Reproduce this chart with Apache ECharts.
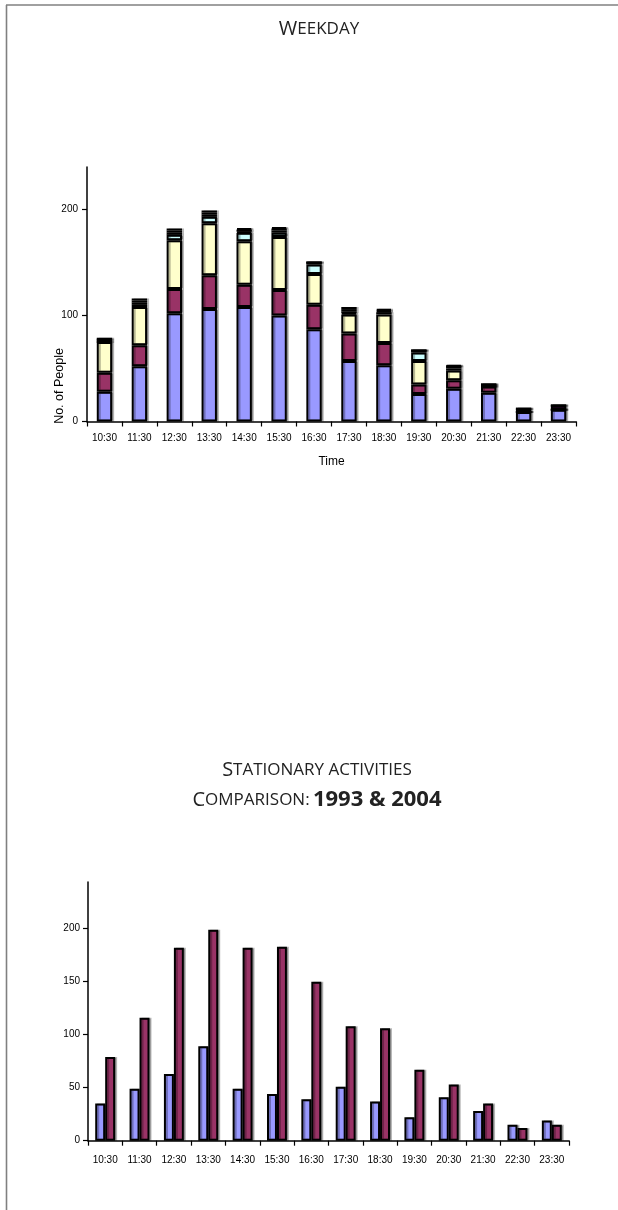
<!DOCTYPE html>
<html>
<head>
<meta charset="utf-8">
<script src="https://cdn.jsdelivr.net/npm/echarts@6/dist/echarts.min.js"></script>
<style>
html,body{margin:0;padding:0;background:#fff;}
#c{width:618px;height:1210px;}
</style>
</head>
<body>
<div id="c"></div>
<script>
// ---- data ----
const categories = ['10:30','11:30','12:30','13:30','14:30','15:30','16:30','17:30','18:30','19:30','20:30','21:30','22:30','23:30'];
// Weekday stacked series
const weekdayS1 = [28, 52, 102, 106, 108, 100, 87, 57, 53, 26, 31, 27, 9, 11];
const weekdayS2 = [18, 20, 23, 32, 21, 24, 23, 26, 21, 9, 8, 6, 0, 0];
const weekdayS3 = [29, 36, 46, 49, 41, 50, 29, 18, 27, 22, 9, 0, 0, 0];
const weekdayS4 = [0, 2, 5, 6, 8, 4, 9, 1, 2, 8, 2, 0, 0, 0];
const weekdayS5 = [2, 2, 2, 2, 1, 2, 2, 2, 1, 2, 2, 2, 3, 4];
const weekdayS6 = [0, 2, 2, 2, 2, 2, 0, 2, 1, 0, 0, 0, 0, 0];
const weekdayS7 = [2, 2, 2, 2, 1, 1, 0, 2, 1, 0, 1, 0, 0, 0];
// Comparison series
const values1993 = [35, 49, 63, 89, 49, 44, 39, 51, 37, 22, 41, 28, 15, 19];
const values2004 = [79, 116, 182, 199, 182, 183, 150, 108, 106, 67, 53, 35, 12, 15];
// tick labels
const weekdayTicks = [0, 100, 200];
const comparisonTicks = [0, 50, 100, 150, 200];

const chart = echarts.init(document.getElementById('c'), null, {renderer:'canvas'});

const FONT = 'Liberation Sans';
const TFONT = 'Open Sans';
const barStyle = (color) => ({
  color: color,
  borderColor: '#000',
  borderWidth: 2,
  shadowColor: 'rgba(0,0,0,0.28)',
  shadowOffsetX: 2,
  shadowOffsetY: 0,
  shadowBlur: 0
});

const stackColors = ['#9999FF','#993366','#FFFFCC','#CCFFFF','#660066','#0066CC','#000080'];
const stackData = [weekdayS1, weekdayS2, weekdayS3, weekdayS4, weekdayS5, weekdayS6, weekdayS7];

const stackSeries = stackData.map((d, i) => ({
  type: 'bar',
  xAxisIndex: 0,
  yAxisIndex: 0,
  stack: 'wk',
  barWidth: '44%',
  data: d,
  itemStyle: barStyle(stackColors[i])
}));

const xAxisCommon = {
  type: 'category',
  data: categories,
  axisLine: {lineStyle: {color: '#000', width: 1.5}},
  axisTick: {show: true, length: 5, lineStyle: {color: '#000', width: 1.2}},
  axisLabel: {color: '#000', fontFamily: FONT, fontSize: 10},
  splitLine: {show: false}
};

const yAxisCommon = {
  type: 'value',
  min: 0,
  axisLine: {show: true, lineStyle: {color: '#000', width: 1.5}},
  axisTick: {show: true, length: 5, lineStyle: {color: '#000', width: 1.2}},
  axisLabel: {color: '#000', fontFamily: FONT, fontSize: 10},
  splitLine: {show: false}
};

const titleRich = {
  a: {fontFamily: TFONT, fontSize: 20, fontWeight: 'normal', fill: '#222'},
  b: {fontFamily: TFONT, fontSize: 17, fontWeight: 'normal', fill: '#222'},
  c: {fontFamily: TFONT, fontSize: 22, fontWeight: 'bold', fill: '#222'}
};

const option = {
  animation: false,
  backgroundColor: '#fff',
  textStyle: {fontFamily: FONT},
  graphic: [
    {type: 'line', shape: {x1: 6, y1: 5, x2: 618, y2: 5}, style: {stroke: '#808080', lineWidth: 1.6}},
    {type: 'line', shape: {x1: 6.5, y1: 5, x2: 6.5, y2: 1210}, style: {stroke: '#808080', lineWidth: 1.6}},
    {type: 'text', x: 60, y: 386, rotation: Math.PI / 2,
      style: {text: 'No. of People', font: '12.5px "Liberation Sans"', fill: '#000', align: 'center', verticalAlign: 'middle'}},
    {type: 'text', x: 319, y: 29,
      style: {text: '{a|W}{b|EEKDAY}', rich: titleRich, align: 'center', verticalAlign: 'middle', fill: '#222'}},
    {type: 'text', x: 317, y: 770,
      style: {text: '{a|S}{b|TATIONARY ACTIVITIES}', rich: titleRich, align: 'center', verticalAlign: 'middle', fill: '#222'}},
    {type: 'text', x: 317, y: 800,
      style: {text: '{a|C}{b|OMPARISON:} {c|1993 & 2004}', rich: titleRich, align: 'center', verticalAlign: 'middle', fill: '#222'}}
  ],
  grid: [
    {left: 87, right: 42, top: 167, height: 254.5, containLabel: false},
    {left: 88, right: 49, top: 882, height: 258.7, containLabel: false}
  ],
  xAxis: [
    Object.assign({}, xAxisCommon, {
      gridIndex: 0,
      name: 'Time',
      nameLocation: 'middle',
      nameGap: 34,
      nameTextStyle: {color: '#000', fontFamily: FONT, fontSize: 12},
      axisLabel: Object.assign({}, xAxisCommon.axisLabel, {margin: 12})
    }),
    Object.assign({}, xAxisCommon, {
      gridIndex: 1,
      axisLabel: Object.assign({}, xAxisCommon.axisLabel, {margin: 15})
    })
  ],
  yAxis: [
    Object.assign({}, yAxisCommon, {
      gridIndex: 0,
      max: 240,
      interval: 100,
      axisTick: Object.assign({}, yAxisCommon.axisTick, {customValues: weekdayTicks}),
      axisLabel: Object.assign({}, yAxisCommon.axisLabel, {customValues: weekdayTicks, margin: 9})
    }),
    Object.assign({}, yAxisCommon, {
      gridIndex: 1,
      max: 244,
      interval: 50,
      axisTick: Object.assign({}, yAxisCommon.axisTick, {customValues: comparisonTicks}),
      axisLabel: Object.assign({}, yAxisCommon.axisLabel, {customValues: comparisonTicks, margin: 8})
    })
  ],
  series: stackSeries.concat([
    {
      type: 'bar', name: '1993', xAxisIndex: 1, yAxisIndex: 1,
      barWidth: '29%', barGap: '0%',
      data: values1993,
      itemStyle: barStyle('#9999FF')
    },
    {
      type: 'bar', name: '2004', xAxisIndex: 1, yAxisIndex: 1,
      barWidth: '29%', barGap: '0%',
      data: values2004,
      itemStyle: barStyle('#993366')
    }
  ])
};

chart.setOption(option);
</script>
</body>
</html>
